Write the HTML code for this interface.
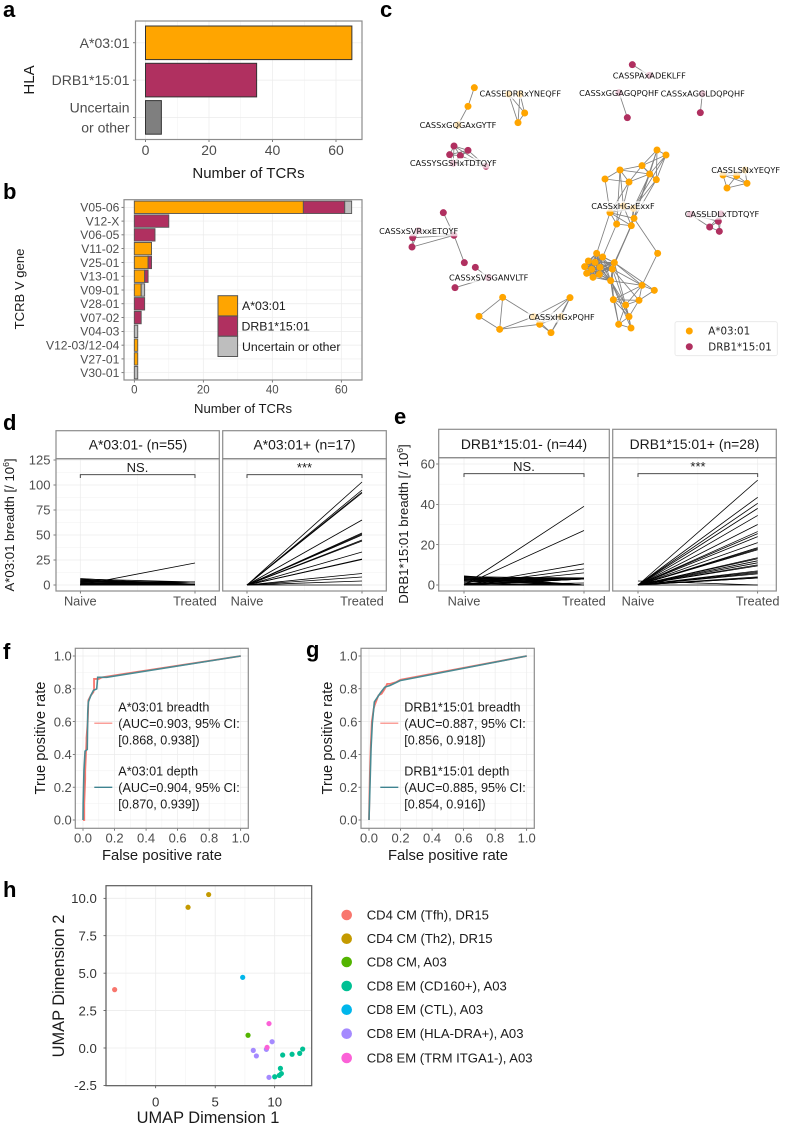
<!DOCTYPE html>
<html lang="en">
<head>
<meta charset="utf-8">
<title>TCR breadth figure</title>
<style>
html,body{margin:0;padding:0;background:#fff;}
svg{display:block;font-family:"Liberation Sans",Arial,sans-serif;filter:blur(0.35px);}
.letter{font-size:22px;font-weight:bold;fill:#000;}
.frame{fill:none;stroke:#8c8c8c;stroke-width:1.2;}
.netlabel{font-family:"DejaVu Sans",sans-serif;font-size:8.2px;fill:#111;text-anchor:middle;}
.grey{fill:#4d4d4d;}
.dark{fill:#1a1a1a;}
</style>
</head>
<body>
<svg id="fig" width="785" height="1126" viewBox="0 0 785 1126" xmlns="http://www.w3.org/2000/svg">
<rect x="0" y="0" width="785" height="1126" fill="#fff"/>

<text class="letter" x="3" y="17">a</text>
<text class="letter" x="3" y="199">b</text>
<text class="letter" x="380" y="17">c</text>
<text class="letter" x="3" y="430">d</text>
<text class="letter" x="394" y="424">e</text>
<text class="letter" x="3" y="659">f</text>
<text class="letter" x="306" y="657">g</text>
<text class="letter" x="3" y="897">h</text>

<!-- a -->
<g id="panel-a"></g>
<rect class="frame" x="135.5" y="21" width="226.5" height="118.5"/>
<text class="dark" font-size="15" text-anchor="middle" transform="translate(34,80) rotate(-90)">HLA</text>
<text class="dark" font-size="15" text-anchor="middle" x="248.5" y="178">Number of TCRs</text>

<!-- b -->
<g id="panel-b"></g>
<rect class="frame" x="124" y="199.7" width="238" height="180.3"/>
<text class="dark" font-size="13.1" text-anchor="middle" transform="translate(24,289) rotate(-90)">TCRB V gene</text>
<text class="dark" font-size="13.1" text-anchor="middle" x="243" y="413">Number of TCRs</text>
<g>
  <rect x="218" y="295.7" width="19.6" height="20.2" fill="#FFA500" stroke="#555" stroke-width="1"/>
  <rect x="218" y="316" width="19.6" height="20.2" fill="#B03060" stroke="#555" stroke-width="1"/>
  <rect x="218" y="336.3" width="19.6" height="20.2" fill="#BEBEBE" stroke="#555" stroke-width="1"/>
  <text class="dark" font-size="12.3" x="242" y="310">A*03:01</text>
  <text class="dark" font-size="12.3" x="241.5" y="330.5">DRB1*15:01</text>
  <text class="dark" font-size="12.3" x="242" y="351">Uncertain or other</text>
</g>

<!-- c -->
<g id="net-edges"></g>
<g id="net-nodes"></g>
<g id="net-bg"></g>
<g id="net-labels">
  <text class="netlabel" x="520.3" y="96.4">CASSEDRRxYNEQFF</text>
  <text class="netlabel" x="458" y="128.1">CASSxGQGAxGYTF</text>
  <text class="netlabel" x="453.3" y="166.1">CASSYSGSHxTDTQYF</text>
  <text class="netlabel" x="649.3" y="78.4">CASSPAxADEKLFF</text>
  <text class="netlabel" x="619" y="95.8">CASSxGGAGQPQHF</text>
  <text class="netlabel" x="702.7" y="96.4">CASSxAGGLDQPQHF</text>
  <text class="netlabel" x="745.7" y="173.1">CASSLSNxYEQYF</text>
  <text class="netlabel" x="623" y="209.1">CASSxHGxExxF</text>
  <text class="netlabel" x="722" y="217.1">CASSLDLxTDTQYF</text>
  <text class="netlabel" x="418.7" y="233.8">CASSxSVRxxETQYF</text>
  <text class="netlabel" x="488.7" y="280.4">CASSxSVSGANVLTF</text>
  <text class="netlabel" x="561.7" y="320.1">CASSxHGxPQHF</text>
</g>
<g>
  <rect x="675" y="321.7" width="102.3" height="34" rx="2" fill="#fff" stroke="#e6e6e6" stroke-width="0.8"/>
  <circle cx="689.3" cy="331" r="3.5" fill="#FFA500"/>
  <circle cx="689.3" cy="346.7" r="3.5" fill="#B03060"/>
  <text font-family="DejaVu Sans, sans-serif" font-size="10.3" fill="#222" x="708.3" y="334.7">A*03:01</text>
  <text font-family="DejaVu Sans, sans-serif" font-size="10.3" fill="#222" x="708.3" y="350.4">DRB1*15:01</text>
</g>

<!-- d -->
<g id="panel-d"></g>
<g>
  <rect class="frame" x="56" y="430.7" width="163.3" height="28"/>
  <rect class="frame" x="222.7" y="430.7" width="163.6" height="28"/>
  <rect class="frame" x="56" y="458.7" width="163.3" height="132.3"/>
  <rect class="frame" x="222.7" y="458.7" width="163.6" height="132.3"/>
  <text class="dark" font-size="13.9" text-anchor="middle" x="138" y="449.5">A*03:01- (n=55)</text>
  <text class="dark" font-size="13.9" text-anchor="middle" x="304.5" y="449.5">A*03:01+ (n=17)</text>
  <text class="dark" font-size="13" text-anchor="middle" x="137.5" y="472">NS.</text>
  <text class="dark" font-size="13" text-anchor="middle" x="304.5" y="472">***</text>
  <text class="dark" font-size="13.2" text-anchor="middle" transform="translate(14,525) rotate(-90)">A*03:01 breadth [/ 10<tspan dy="-5" font-size="8.5">6</tspan><tspan dy="5">]</tspan></text>
</g>

<!-- e -->
<g id="panel-e"></g>
<g>
  <rect class="frame" x="438.7" y="429.3" width="170.6" height="28.4"/>
  <rect class="frame" x="612.7" y="429.3" width="163.6" height="28.4"/>
  <rect class="frame" x="438.7" y="457.7" width="170.6" height="133.3"/>
  <rect class="frame" x="612.7" y="457.7" width="163.6" height="133.3"/>
  <text class="dark" font-size="13.9" text-anchor="middle" x="524" y="449">DRB1*15:01- (n=44)</text>
  <text class="dark" font-size="13.9" text-anchor="middle" x="694.5" y="449">DRB1*15:01+ (n=28)</text>
  <text class="dark" font-size="13" text-anchor="middle" x="524" y="471">NS.</text>
  <text class="dark" font-size="13" text-anchor="middle" x="698" y="471">***</text>
  <text class="dark" font-size="13.2" text-anchor="middle" transform="translate(408,524) rotate(-90)">DRB1*15:01 breadth [/ 10<tspan dy="-5" font-size="8.5">6</tspan><tspan dy="5">]</tspan></text>
</g>

<!-- f -->
<g id="panel-f"></g>
<rect class="frame" x="75.3" y="648.3" width="173" height="180"/>
<text class="dark" font-size="14.7" text-anchor="middle" transform="translate(45,738) rotate(-90)">True positive rate</text>
<text class="dark" font-size="14.8" text-anchor="middle" x="162" y="860">False positive rate</text>
<g font-size="12.6">
  <line x1="94.3" x2="112.3" y1="723.3" y2="723.3" stroke="#F8766D" stroke-opacity="0.7" stroke-width="1.5"/>
  <line x1="94.3" x2="112.3" y1="787.3" y2="787.3" stroke="#3E8390" stroke-width="1.3"/>
  <text class="dark" x="118.3" y="711.5">A*03:01 breadth</text>
  <text class="dark" x="118.3" y="728">(AUC=0.903, 95% CI:</text>
  <text class="dark" x="118.3" y="744.5">[0.868, 0.938])</text>
  <text class="dark" x="118.3" y="775.5">A*03:01 depth</text>
  <text class="dark" x="118.3" y="792">(AUC=0.904, 95% CI:</text>
  <text class="dark" x="118.3" y="808.5">[0.870, 0.939])</text>
</g>

<!-- g -->
<g id="panel-g"></g>
<rect class="frame" x="361" y="648.3" width="173.3" height="180"/>
<text class="dark" font-size="14.7" text-anchor="middle" transform="translate(332,738) rotate(-90)">True positive rate</text>
<text class="dark" font-size="14.8" text-anchor="middle" x="448" y="860">False positive rate</text>
<g font-size="12.6">
  <line x1="380.3" x2="398.3" y1="723.3" y2="723.3" stroke="#F8766D" stroke-opacity="0.7" stroke-width="1.5"/>
  <line x1="380.3" x2="398.3" y1="787.3" y2="787.3" stroke="#3E8390" stroke-width="1.3"/>
  <text class="dark" x="404.3" y="711.5">DRB1*15:01 breadth</text>
  <text class="dark" x="404.3" y="728">(AUC=0.887, 95% CI:</text>
  <text class="dark" x="404.3" y="744.5">[0.856, 0.918])</text>
  <text class="dark" x="404.3" y="775.5">DRB1*15:01 depth</text>
  <text class="dark" x="404.3" y="792">(AUC=0.885, 95% CI:</text>
  <text class="dark" x="404.3" y="808.5">[0.854, 0.916])</text>
</g>

<!-- h -->
<g id="panel-h"></g>
<rect x="106" y="885.7" width="205.7" height="200" fill="none" stroke="#5a5a5a" stroke-width="1.2"/>
<text class="dark" font-size="16.4" text-anchor="middle" transform="translate(64,986) rotate(-90)">UMAP Dimension 2</text>
<text class="dark" font-size="16.4" text-anchor="middle" x="208" y="1123">UMAP Dimension 1</text>
<g font-size="13.1">
  <circle cx="346.7" cy="915" r="5.3" fill="#F8766D"/>
  <circle cx="346.7" cy="938.7" r="5.3" fill="#C49A00"/>
  <circle cx="346.7" cy="962" r="5.3" fill="#53B400"/>
  <circle cx="346.7" cy="986" r="5.3" fill="#00C094"/>
  <circle cx="346.7" cy="1009.7" r="5.3" fill="#00B6EB"/>
  <circle cx="346.7" cy="1033.7" r="5.3" fill="#A58AFF"/>
  <circle cx="346.7" cy="1058" r="5.3" fill="#FB61D7"/>
  <text class="dark" x="366.7" y="919.5">CD4 CM (Tfh), DR15</text>
  <text class="dark" x="366.7" y="943.2">CD4 CM (Th2), DR15</text>
  <text class="dark" x="366.7" y="966.5">CD8 CM, A03</text>
  <text class="dark" x="366.7" y="990.5">CD8 EM (CD160+), A03</text>
  <text class="dark" x="366.7" y="1014.2">CD8 EM (CTL), A03</text>
  <text class="dark" x="366.7" y="1038.2">CD8 EM (HLA-DRA+), A03</text>
  <text class="dark" x="366.7" y="1062.5">CD8 EM (TRM ITGA1-), A03</text>
</g>
</svg>

<script>
// ---------- panel a data ----------
const hlaCategories = ["A*03:01", "DRB1*15:01", "Uncertain\nor other"];
const hlaCounts = [65, 35, 5];
const hlaColors = ["#FFA500", "#B03060", "#7F7F7F"];
const hlaTicks = [0, 20, 40, 60];

// ---------- panel b data ----------
const vGenes = ["V05-06","V12-X","V06-05","V11-02","V25-01","V13-01","V09-01","V28-01","V07-02","V04-03","V12-03/12-04","V27-01","V30-01"];
const vCountsA = [49,0,0,5,4,3,2,0,0,0,1,1,0];
const vCountsD = [12,10,6,0,1,1,0,3,2,0,0,0,0];
const vCountsU = [2,0,0,0,0,0,1,0,0,1,0,0,1];
const vTicks = [0, 20, 40, 60];

// ---------- panel c data (layout units) ----------
const nodeX = [313,294,264, 416,450,464,444, 252,294,239,271,250,348, 787,838, 747,772, 997,991, 1059,1100,1125,1131,1071,
  861,888,816,750,839,705,777,859,720,760,790,792,740,784,863,
  680,698,655,675,733,644,665,690,727,650,688,669,722,
  816,853,730,807,767,777,746,783,
  220,145,128,126,252,283, 316,355,255, 398,327,389,491,509,543,600,573, 961,1053,1045,1019,1048];
const nodeY = [263,319,375, 282,282,339,368, 438,451,464,467,490,499, 194,226, 278,353, 281,338, 525,527,510,550,564,
  450,465,497,510,522,537,546,539,638,618,625,655,672,677,760,
  760,771,783,787,788,800,808,802,807,820,823,832,842,
  856,871,899,901,915,950,973,984,
  638,692,713,741,706,788, 802,833,863, 892,949,988,950,973,998,893,950, 643,642,664,681,694];
const clusterStart = [0,3,7,13,15,17,19,24,60,66,69,77];
const clusterHla = ["A","A","D","D","D","D","A","A","D","D","A","D"];
const clusterEdges = [
  "0-1 1-2",
  "0-1 0-2 0-3 1-2 1-3 2-3",
  "0-1 0-2 0-3 0-4 0-5 1-2 1-3 1-4 1-5 2-3 2-4 3-4 3-5 4-5",
  "0-1",
  "0-1",
  "0-1",
  "0-1 0-2 0-3 0-4 1-2 1-3 1-4 2-3 3-4",
  "0-1 0-2 0-4 0-7 1-2 1-4 1-7 2-3 2-4 2-6 2-7 3-4 3-5 3-6 4-6 4-7 5-6 5-8 3-9 3-12 6-8 6-9 4-10 4-11 7-10 7-11 0-13 1-10 8-9 8-10 8-11 8-12 8-13 9-10 9-12 9-13 10-11 10-13 11-13 12-13 8-15 12-16 13-23 13-19 11-23 11-14 14-28 19-28 19-29 19-32 23-28 23-30 23-31 23-33 27-28 27-30 27-32 27-33 27-34 27-35 28-29 28-30 28-31 28-32 29-31 30-31 30-32 30-33 30-34 31-32 31-33 32-33 32-34 32-35 33-34 33-35 34-35",
  "0-4 4-5 1-2 1-3 1-4 2-3 2-4 3-4",
  "0-1 1-2",
  "0-1 0-2 1-2 0-3 2-3 2-4 3-6 4-6 5-6 7-6 3-7 3-4 4-5 3-5 5-7 4-7",
  "0-1 0-2 0-3 1-2 1-3 1-4 2-3 2-4 3-4"
];
const denseCluster = 7;
const denseMembers = [15,16,17,18,19,20,21,22,23,24,25,26,27];

// ---------- panel d data ----------
const slopeCategories = ["Naive", "Treated"];
const dYTicks = [0, 25, 50, 75, 100, 125];
const dNegNaive = [6.5,6,5.5,5,4.5,4,3.5,3,2.5,2, 1.5,1,.5,2,3,4,1,1,.5,.5, 0,0,0,0,0,0,0,0,0,0, 0,0,0,0,0,0,0,0,0,0, 0,0,0,0,0,0,0,0,0,0, 0,0,0,0,0];
const dNegTreated = [0,3,0,1,0,3,0,1,3,0, 0,3,0,0,1,0,3,0,0,1, 22,3,3,1,0,0,0,0,0,0, 0,0,0,0,0,0,0,0,0,0, 0,0,0,0,0,0,0,0,0,0, 0,0,0,0,0];
const dPosNaive = [0,0,0,0,0,0,0,0,0,0,0,0,0,0,0,0,0];
const dPosTreated = [103,95,93,92,65,52,51,50,45,44,33,26,25.5,11.5,8,4,0];

// ---------- panel e data ----------
const eYTicks = [0, 20, 40, 60];
const eNegNaive = [4.5,4.2,4,3.8,3.5,3.2,3,2.8,2.5,2.2, 2,1.5,1,.5, 0,0,0,0,0,0, 0,0,0,0,0,0,0,0,0,0, 0,0,0,0,0,0,0,0,0,0, 0,0,0,0];
const eNegTreated = [0,3,3.5,0,3,0,3,0,3,0, 3,3,0,3, 39,27,10.5,8,6,3.5, 3,3,3,1,0,0,0,0,0,0, 0,0,0,0,0,0,0,0,0,0, 0,0,0,0];
const ePosNaive = [0,0,0,0,0,0,0,0,0,0,0,0,0,0,0,0,0,0,0,0,0,0,0,0,0,0,0,2];
const ePosTreated = [52,43.5,40.5,38,34.5,30,26.5,25.5,24,21, 18.5,18,17.5,13.5,13,12,11,10,9.5,7, 6.5,6,5.5,4,3.5,3.5,0,0];

// ---------- panel f / g data ----------
const rocTicks = [0, 0.2, 0.4, 0.6, 0.8, 1.0];
const fFprBreadth = [0,0.008,0.008,0.014,0.014,0.022,0.022,0.03,0.032,0.034,0.05,0.066,0.07,0.07,0.1,0.12,1];
const fTprBreadth = [0,0,0.1,0.25,0.3,0.48,0.5,0.6,0.65,0.73,0.76,0.78,0.8,0.86,0.86,0.87,1];
const fFprDepth = [0,0.001,0.006,0.013,0.027,0.03,0.034,0.05,0.066,0.087,0.093,0.15,1];
const fTprDepth = [0,0.1,0.3,0.42,0.43,0.65,0.72,0.76,0.79,0.8,0.87,0.87,1];
const gFprBreadth = [0,0.002,0.006,0.012,0.018,0.03,0.036,0.06,0.08,0.1,0.115,0.135,0.15,0.17,0.18,0.2,1];
const gTprBreadth = [0,0.12,0.3,0.47,0.6,0.68,0.7,0.76,0.77,0.8,0.83,0.83,0.835,0.84,0.845,0.855,1];
const gFprDepth = [0,0.006,0.013,0.021,0.034,0.07,0.1,0.133,0.197,1];
const gTprDepth = [0,0.2,0.437,0.59,0.72,0.772,0.81,0.82,0.85,1];

// ---------- panel h data ----------
const umapX = [-3.45, 2.72,4.45, 7.76, 10.67,11.46,12.1,12.35,10.48,10.56,10.39,10.0, 7.31, 8.2,8.46,9.3,9.78,9.52, 9.36,9.52];
const umapY = [3.9, 9.4,10.25, 0.85, -0.47,-0.42,-0.36,-0.07,-1.36,-1.71,-1.83,-1.92, 4.72, -0.16,-0.53,-0.09,0.42,-1.96, 0.04,1.63];
const umapGroup = [0, 1,1, 2, 3,3,3,3,3,3,3,3, 4, 5,5,5,5,5, 6,6];
const umapColors = ["#F8766D","#C49A00","#53B400","#00C094","#00B6EB","#A58AFF","#FB61D7"];
const umapXTicks = [0, 5, 10];
const umapYTicks = [-2.5, 0, 2.5, 5, 7.5, 10];

// ---------- drawing primitives ----------
const NS = "http://www.w3.org/2000/svg";
function add(parent, tag, attrs, name) {
  const el = document.createElementNS(NS, tag);
  for (const k in attrs) el.setAttribute(k, attrs[k]);
  
  
  parent.appendChild(el);
  return el;
}
function line(p, x1, y1, x2, y2, stroke, w, name) {
  return add(p, "line", {x1, y1, x2, y2, stroke, "stroke-width": w}, name);
}
function label(p, x, y, str, size, anchor, fill, name) {
  const t = add(p, "text", {x, y, "font-size": size, "text-anchor": anchor, fill, dy: "0.36em"}, name);
  t.textContent = str;
  return t;
}
function scale(d0, d1, r0, r1) {
  return v => r0 + (v - d0) * (r1 - r0) / (d1 - d0);
}
const GRID = "#ebebeb", TICK = "#444", TXT = "#4d4d4d";

// ---------- panel a ----------
(function () {
  const g = document.getElementById("panel-a");
  const x = scale(0, 60, 145.5, 336);
  const yc = scale(0, 2, 42.8, 117.4);
  const half = 16.8;
  [10, 30, 50].forEach(v => line(g, x(v), 21, x(v), 139.5, GRID, 0.35, "x-minor-grid"));
  hlaTicks.forEach(v => line(g, x(v), 21, x(v), 139.5, GRID, 0.7, "x-major-grid"));
  hlaCategories.forEach((c, i) => line(g, 135.5, yc(i), 362, yc(i), GRID, 0.7, "y-major-grid"));
  hlaCounts.forEach((v, i) => {
    add(g, "rect", {x: x(0), y: yc(i) - half, width: x(v) - x(0), height: half * 2, fill: hlaColors[i], stroke: "#333", "stroke-width": 1}, "bar-" + i);
  });
  hlaTicks.forEach(v => {
    line(g, x(v), 139.5, x(v), 142, TICK, 0.7, "x-tick");
    label(g, x(v), 150, String(v), 14, "middle", TXT, "x-tick-label");
  });
  hlaCategories.forEach((c, i) => {
    line(g, 133, yc(i), 135.5, yc(i), TICK, 0.7, "y-tick");
    const parts = c.split("\n");
    parts.forEach((s, j) => {
      const yy = parts.length > 1 ? yc(i) + (j === 0 ? -9.7 : 10.3) : yc(i);
      label(g, 129.5, yy, s, 14, "end", TXT, "y-tick-label");
    });
  });
})();

// ---------- panel b ----------
(function () {
  const g = document.getElementById("panel-b");
  const x = scale(0, 60, 134.3, 341.3);
  const yc = scale(0, 12, 207.3, 372.7);
  const half = 6.2;
  [10, 30, 50].forEach(v => line(g, x(v), 199.7, x(v), 380, GRID, 0.35, "x-minor-grid"));
  vTicks.forEach(v => line(g, x(v), 199.7, x(v), 380, GRID, 0.7, "x-major-grid"));
  vGenes.forEach((c, i) => line(g, 124, yc(i), 362, yc(i), GRID, 0.7, "y-major-grid"));
  vGenes.forEach((c, i) => {
    let acc = 0;
    [[vCountsA[i], "#FFA500"], [vCountsD[i], "#B03060"], [vCountsU[i], "#BEBEBE"]].forEach(s => {
      if (s[0] > 0) {
        add(g, "rect", {x: x(acc), y: yc(i) - half, width: x(acc + s[0]) - x(acc), height: half * 2, fill: s[1], stroke: "#555", "stroke-width": 0.9}, "bar-" + c);
        acc += s[0];
      }
    });
    line(g, 121.5, yc(i), 124, yc(i), TICK, 0.7, "y-tick");
    label(g, 119.3, yc(i), c, 12.1, "end", TXT, "y-tick-label");
  });
  vTicks.forEach(v => {
    line(g, x(v), 380, x(v), 382.5, TICK, 0.7, "x-tick");
    label(g, x(v), 389.5, String(v), 11.5, "middle", TXT, "x-tick-label");
  });
})();

// ---------- panel c ----------
(function () {
  const ex = u => 370 + u / 3;
  const ey = u => u / 3;
  const edges = document.getElementById("net-edges");
  const nodes = document.getElementById("net-nodes");
  const bg = document.getElementById("net-bg");
  const drawEdge = (a, b) => line(edges, ex(nodeX[a]), ey(nodeY[a]), ex(nodeX[b]), ey(nodeY[b]), "#808080", 0.85, "network-edge");
  clusterEdges.forEach((s, ci) => {
    const base = clusterStart[ci];
    s.split(" ").forEach(p => {
      const [a, b] = p.split("-").map(Number);
      drawEdge(base + a, base + b);
    });
  });
  const dBase = clusterStart[denseCluster];
  denseMembers.forEach((a, i) => {
    denseMembers.slice(i + 1).forEach(b => drawEdge(dBase + a, dBase + b));
  });
  nodeX.forEach((u, i) => {
    let ci = 0;
    clusterStart.forEach((s, k) => { if (i >= s) ci = k; });
    add(nodes, "circle", {cx: ex(u), cy: ey(nodeY[i]), r: 3.5, fill: clusterHla[ci] === "A" ? "#FFA500" : "#B03060"}, "network-node");
  });
  document.querySelectorAll("#net-labels text").forEach(t => {
    const w = t.getComputedTextLength();
    const tx = parseFloat(t.getAttribute("x"));
    const ty = parseFloat(t.getAttribute("y"));
    add(bg, "rect", {x: tx - w / 2 - 1, y: ty - 8, width: w + 2, height: 10.5, fill: "#fff", "fill-opacity": 0.72}, "network-label-background");
  });
})();

// ---------- panels d / e ----------
function slopePanel(g, cfg) {
  const y = cfg.y;
  const x = scale(0, 1, cfg.naiveX, cfg.treatedX);
  cfg.minor.forEach(v => line(g, cfg.left, y(v), cfg.right, y(v), GRID, 0.35, "y-minor-grid"));
  cfg.ticks.forEach(v => { if (y(v) > cfg.top) line(g, cfg.left, y(v), cfg.right, y(v), GRID, 0.7, "y-major-grid"); });
  line(g, x(0), cfg.top, x(0), cfg.bottom, GRID, 0.7, "x-major-grid");
  line(g, x(1), cfg.top, x(1), cfg.bottom, GRID, 0.7, "x-major-grid");
  line(g, x(0.5), cfg.top, x(0.5), cfg.bottom, GRID, 0.35, "x-minor-grid");
  cfg.naive.forEach((v, i) => {
    line(g, x(0), y(v), x(1), y(cfg.treated[i]), "#000", 0.8, "slope-line");
  });
  add(g, "path", {d: `M${x(0)} ${cfg.brY + 3.3}V${cfg.brY}H${x(1)}V${cfg.brY + 3.3}`, fill: "none", stroke: "#333", "stroke-width": 0.9}, "significance-bracket");
  slopeCategories.forEach((c, i) => {
    line(g, x(i), cfg.bottom, x(i), cfg.bottom + 2.5, TICK, 0.7, "x-tick");
    label(g, x(i), 601, c, 12.8, "middle", TXT, "x-tick-label");
  });
}
(function () {
  const g = document.getElementById("panel-d");
  const y = scale(0, 125, 585, 460);
  const base = {y, ticks: dYTicks, minor: [12.5, 37.5, 62.5, 87.5, 112.5], top: 458.7, bottom: 591, brY: 474.7};
  slopePanel(g, Object.assign({}, base, {left: 56, right: 219.3, naiveX: 80.3, treatedX: 195, naive: dNegNaive, treated: dNegTreated}));
  slopePanel(g, Object.assign({}, base, {left: 222.7, right: 386.3, naiveX: 247, treatedX: 362, naive: dPosNaive, treated: dPosTreated}));
  dYTicks.forEach(v => {
    line(g, 53.5, y(v), 56, y(v), TICK, 0.7, "y-tick");
    label(g, 50.5, y(v), String(v), 13, "end", TXT, "y-tick-label");
  });
})();
(function () {
  const g = document.getElementById("panel-e");
  const y = scale(0, 60, 585, 464);
  const base = {y, ticks: eYTicks, minor: [10, 30, 50], top: 457.7, bottom: 591, brY: 473.7};
  slopePanel(g, Object.assign({}, base, {left: 438.7, right: 609.3, naiveX: 464, treatedX: 584, naive: eNegNaive, treated: eNegTreated}));
  slopePanel(g, Object.assign({}, base, {left: 612.7, right: 776.3, naiveX: 638, treatedX: 757.7, naive: ePosNaive, treated: ePosTreated}));
  eYTicks.forEach(v => {
    line(g, 436.2, y(v), 438.7, y(v), TICK, 0.7, "y-tick");
    label(g, 435, y(v), String(v), 13, "end", TXT, "y-tick-label");
  });
})();

// ---------- panels f / g ----------
function rocPanel(g, c) {
  const x = scale(0, 1, c.x0, c.x1);
  const y = scale(0, 1, 820, 656);
  [0.1, 0.3, 0.5, 0.7, 0.9].forEach(v => {
    line(g, x(v), 648.3, x(v), 828.3, GRID, 0.35, "x-minor-grid");
    line(g, c.left, y(v), c.right, y(v), GRID, 0.35, "y-minor-grid");
  });
  rocTicks.forEach(v => {
    line(g, x(v), 648.3, x(v), 828.3, GRID, 0.7, "x-major-grid");
    line(g, c.left, y(v), c.right, y(v), GRID, 0.7, "y-major-grid");
  });
  const pts = (xs, ys) => xs.map((v, i) => x(v).toFixed(2) + "," + y(ys[i]).toFixed(2)).join(" ");
  add(g, "polyline", {points: pts(c.fb, c.tb), fill: "none", stroke: "#F8766D", "stroke-width": 1.8}, "roc-breadth-line");
  add(g, "polyline", {points: pts(c.fd, c.td), fill: "none", stroke: "#4A8A92", "stroke-width": 1.6}, "roc-depth-line");
  rocTicks.forEach(v => {
    line(g, x(v), 828.3, x(v), 830.8, TICK, 0.7, "x-tick");
    label(g, x(v), 837.8, v.toFixed(1), 13, "middle", TXT, "x-tick-label");
    line(g, c.left - 2.5, y(v), c.left, y(v), TICK, 0.7, "y-tick");
    label(g, c.left - 3.5, y(v), v.toFixed(1), 13, "end", TXT, "y-tick-label");
  });
}
rocPanel(document.getElementById("panel-f"), {x0: 83, x1: 240.7, left: 75.3, right: 248.3, fb: fFprBreadth, tb: fTprBreadth, fd: fFprDepth, td: fTprDepth});
rocPanel(document.getElementById("panel-g"), {x0: 369, x1: 526.7, left: 361, right: 534.3, fb: gFprBreadth, tb: gTprBreadth, fd: gFprDepth, td: gTprDepth});

// ---------- panel h ----------
(function () {
  const g = document.getElementById("panel-h");
  const x = scale(0, 10, 155.7, 274.7);
  const y = scale(0, 10, 1048, 898.3);
  [-2.5, 2.5, 7.5].forEach(v => line(g, x(v), 885.7, x(v), 1085.7, GRID, 0.35, "x-minor-grid"));
  line(g, x(12.5), 885.7, x(12.5), 1085.7, GRID, 0.35, "x-minor-grid");
  umapXTicks.forEach(v => line(g, x(v), 885.7, x(v), 1085.7, GRID, 0.8, "x-major-grid"));
  umapYTicks.forEach(v => line(g, 106, y(v), 311.7, y(v), GRID, 0.8, "y-major-grid"));
  umapX.forEach((v, i) => {
    add(g, "circle", {cx: x(v), cy: y(umapY[i]), r: 2.6, fill: umapColors[umapGroup[i]]}, "umap-point");
  });
  umapXTicks.forEach(v => {
    line(g, x(v), 1085.7, x(v), 1088.2, "#333", 0.7, "x-tick");
    label(g, x(v), 1101.7, String(v), 13.2, "middle", "#333", "x-tick-label");
  });
  umapYTicks.forEach(v => {
    line(g, 103.5, y(v), 106, y(v), "#333", 0.7, "y-tick");
    label(g, 96.8, y(v), v.toFixed(1), 13.2, "end", "#333", "y-tick-label");
  });
})();
</script>
</body>
</html>
